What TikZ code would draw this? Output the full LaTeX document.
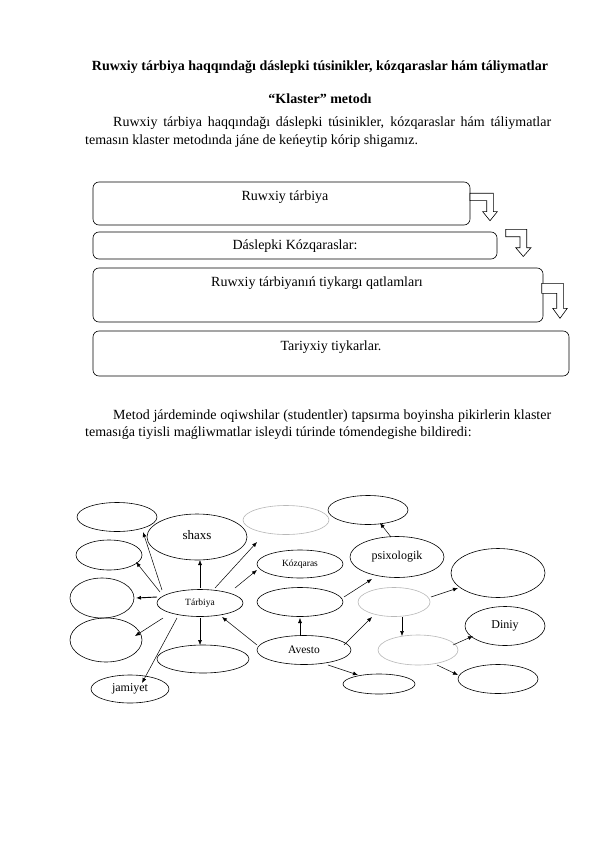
\documentclass[tikz,border=0pt]{standalone}
\usepackage{fontspec}
\setmainfont{Liberation Serif}
\usetikzlibrary{shapes.geometric,arrows.meta}
\hyphenpenalty=10000
\exhyphenpenalty=10000
\tikzset{
  ell/.style={draw=black, line width=0.6pt, ellipse, inner sep=0pt},
  gell/.style={draw=black!28, line width=0.6pt, ellipse, inner sep=0pt},
  arr/.style={draw=black, line width=0.5pt, -{Latex[length=5pt,width=4pt]}},
  fbox/.style={draw=black, line width=0.6pt, rounded corners=6pt, inner sep=0pt},
  harr/.style={draw=black, line width=0.6pt, fill=white},
  body/.style={font=\fontsize{14}{17.5}\selectfont, inner sep=0pt},
}
\begin{document}
\begin{tikzpicture}[x=1pt,y=-1pt]
\useasboundingbox (0,0) rectangle (596,842);
\fill[white] (0,0) rectangle (596,842);

% header texts
\node[inner sep=0pt, font=\bfseries\fontsize{14}{16}\selectfont, anchor=base] (title) at (320,71) {Ruwxiy tárbiya haqqındağı dáslepki túsinikler, kózqaraslar hám táliymatlar};
\node[inner sep=0pt, font=\bfseries\fontsize{14}{16}\selectfont, anchor=base] (klaster) at (320,104) {“Klaster” metodı};
\node[body, anchor=base west, text width=466pt, align=justify] (p1) at (85,127) {\hspace*{28pt}Ruwxiy tárbiya haqqındağı dáslepki túsinikler, kózqaraslar hám táliymatlar temasın klaster metodında jáne de keńeytip kórip shigamız.};

% flow boxes
\node[fbox, minimum width=377pt, minimum height=43pt] (b1) at (281.5,203.5) {};
\node[fbox, minimum width=404pt, minimum height=27pt] (b2) at (295,245.5) {};
\node[fbox, minimum width=450pt, minimum height=54pt] (b3) at (318,295) {};
\node[fbox, minimum width=476pt, minimum height=45pt] (b4) at (331,353.5) {};
\node[body] (t1) at (285,197) {Ruwxiy tárbiya};
\node[body] (t2) at (295,246) {Dáslepki Kózqaraslar:};
\node[body] (t3) at (317,283) {Ruwxiy tárbiyanıń tiykargı qatlamları};
\node[body] (t4) at (331,347) {Tariyxiy tiykarlar.};

% bent hollow arrows
\draw[harr] (470,193.3) -- (493.3,193.3) -- (493.3,211.7) -- (497.3,211.7) -- (490,220.7) -- (482.7,211.7) -- (486.7,211.7) -- (486.7,200.7) -- (470,200.7) -- cycle;
\draw[harr] (505.7,229.3) -- (526.7,229.3) -- (526.7,247.7) -- (531,247.7) -- (523.3,256.5) -- (515.7,247.7) -- (520,247.7) -- (520,236.7) -- (505.7,236.7) -- cycle;
\draw[harr] (541.7,283.3) -- (563.3,283.3) -- (563.3,308.3) -- (567.3,308.3) -- (560,318.3) -- (552.7,308.3) -- (556.7,308.3) -- (556.7,293.3) -- (541.7,293.3) -- cycle;

\node[body, anchor=base west, text width=466pt, align=justify] (p2) at (85,419) {\hspace*{28pt}Metod járdeminde oqiwshilar (studentler) tapsırma boyinsha pikirlerin klaster temasıǵa tiyisli maǵliwmatlar isleydi túrinde tómendegishe bildiredi:};

% cluster ellipses
\node[ell, minimum width=80pt, minimum height=29pt] (tl) at (117,517) {};
\node[ell, minimum width=100pt, minimum height=46pt, font=\fontsize{13}{14}\selectfont] (shaxs) at (197,537) {\raisebox{4pt}{shaxs}};
\node[gell, minimum width=86pt, minimum height=29pt] (g1) at (286,520) {};
\node[ell, minimum width=80pt, minimum height=29pt] (tr) at (368,510) {};
\node[ell, minimum width=66pt, minimum height=30pt] (l2) at (109,555) {};
\node[ell, minimum width=64pt, minimum height=40pt] (l3) at (102,598) {};
\node[ell, minimum width=72pt, minimum height=44pt] (l4) at (106,640) {};
\node[ell, minimum width=78pt, minimum height=28pt, font=\fontsize{12}{13}\selectfont] (jam) at (130,689) {jamiyet};
\node[ell, minimum width=86pt, minimum height=27pt, font=\fontsize{9.5}{10}\selectfont] (tb) at (200,603) {Tárbiya};
\node[ell, minimum width=92pt, minimum height=28pt] (bm) at (203,659) {};
\node[ell, minimum width=86pt, minimum height=28pt, font=\fontsize{9.5}{10}\selectfont] (koz) at (300,564) {Kózqaras};
\node[ell, minimum width=86pt, minimum height=29pt] (bl) at (300,602) {};
\node[ell, minimum width=94pt, minimum height=29pt, font=\fontsize{11.5}{12}\selectfont] (av) at (304,650) {Avesto};
\node[ell, minimum width=94pt, minimum height=41pt, font=\fontsize{12}{13}\selectfont] (psi) at (397,557) {\raisebox{2pt}{psixologik}};
\node[gell, minimum width=72pt, minimum height=29pt] (g2) at (394,602) {};
\node[ell, minimum width=94pt, minimum height=49pt] (br) at (498,573) {};
\node[ell, minimum width=80pt, minimum height=39pt, font=\fontsize{12}{13}\selectfont] (din) at (505,626) {Diniy};
\node[gell, minimum width=80pt, minimum height=30pt] (g3) at (418,650) {};
\node[ell, minimum width=72pt, minimum height=20pt] (bs) at (379,684) {};
\node[ell, minimum width=80pt, minimum height=29pt] (brr) at (498,679) {};

% cluster arrows
\draw[arr] ([shift={(-38,-13)}]tb.center) -- ([shift={(26,15)}]tl.center);
\draw[arr] ([shift={(-40,-11)}]tb.center) -- ([shift={(27,7)}]l2.center);
\draw[arr, line width=0.9pt] ([shift={(-43,-6)}]tb.center) -- ([shift={(34,0)}]l3.center);
\draw[arr] ([shift={(-37,15)}]tb.center) -- ([shift={(29,-4)}]l4.center);
\draw[arr] ([shift={(-23,15)}]tb.center) -- ([shift={(12,-6)}]jam.center);
\draw[arr] ([shift={(0,-15)}]tb.center) -- ([shift={(3,23)}]shaxs.center);
\draw[arr] ([shift={(15,-15)}]tb.center) -- ([shift={(-29,22)}]g1.center);
\draw[arr] ([shift={(35,-15)}]tb.center) -- ([shift={(-43,6)}]koz.center);
\draw[arr] ([shift={(0,15)}]tb.center) -- ([shift={(-3,-14)}]bm.center);
\draw[arr] ([shift={(-47,-5)}]av.center) -- ([shift={(22,14)}]tb.center);
\draw[arr] ([shift={(-4,-14)}]av.center) -- ([shift={(0,16)}]bl.center);
\draw[arr] ([shift={(44,-5)}]bl.center) -- ([shift={(-25,22)}]psi.center);
\draw[arr] ([shift={(40,-5)}]av.center) -- ([shift={(-22,15)}]g2.center);
\draw[arr] ([shift={(24,15)}]av.center) -- ([shift={(-21,-9)}]bs.center);
\draw[arr] ([shift={(-6,-20)}]psi.center) -- ([shift={(12,13)}]tr.center);
\draw[arr] ([shift={(37,-5)}]g2.center) -- ([shift={(-40,15)}]br.center);
\draw[arr] ([shift={(8,15)}]g2.center) -- ([shift={(-16,-14)}]g3.center);
\draw[arr] ([shift={(35,-5)}]g3.center) -- ([shift={(-32,10)}]din.center);
\draw[arr] ([shift={(19,15)}]g3.center) -- ([shift={(-40,-4)}]brr.center);
\end{tikzpicture}
\end{document}
